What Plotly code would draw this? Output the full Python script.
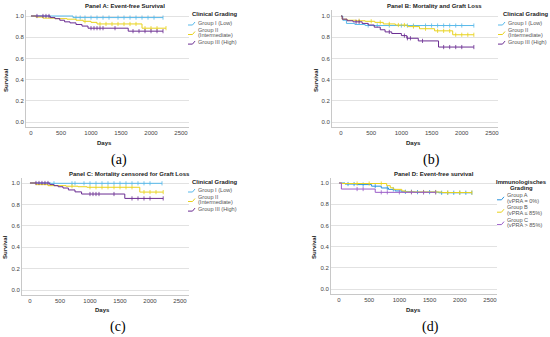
import plotly.graph_objects as go

W, H = 550, 337

# ---------------- data ----------------
# Panel A: Event-free Survival
A_I_t = [0, 700, 2200]
A_I_s = [1.0, 0.985, 0.985]
A_I_c = [750, 820, 900, 1000, 1100, 1200, 1300, 1450, 1550, 1650, 1750, 1850, 1950, 2050, 2200]
A_II_t = [0, 80, 200, 400, 600, 750, 870, 1000, 1100, 1850, 2250]
A_II_s = [1.0, 0.99, 0.98, 0.975, 0.97, 0.96, 0.95, 0.94, 0.925, 0.885, 0.885]
A_II_c = [900, 1150, 1250, 1350, 1450, 1550, 1650, 1750, 1900, 2000, 2100, 2250]
A_III_t = [0, 320, 400, 480, 560, 650, 750, 850, 950, 1620, 2200]
A_III_s = [1.0, 0.985, 0.975, 0.96, 0.945, 0.935, 0.92, 0.905, 0.885, 0.857, 0.857]
A_III_c = [100, 200, 250, 300, 1000, 1050, 1100, 1150, 1200, 1400, 1700, 1800, 1900, 2000, 2100, 2200]

# Panel B: Mortality and Graft Loss
B_I_t = [0, 30, 90, 230, 400, 2200]
B_I_s = [1.0, 0.96, 0.93, 0.92, 0.91, 0.91]
B_I_c = [450, 600, 800, 1000, 1100, 1200, 1400, 1500, 1600, 1700, 1800, 1900, 2000, 2200]
B_II_t = [0, 20, 100, 250, 400, 560, 700, 900, 1100, 1300, 1550, 1850, 2200]
B_II_s = [1.0, 0.97, 0.96, 0.955, 0.95, 0.94, 0.925, 0.915, 0.9, 0.88, 0.86, 0.823, 0.823]
B_II_c = [300, 500, 650, 800, 950, 1050, 1200, 1400, 1600, 1700, 1800, 1900, 2000, 2100, 2200]
B_III_t = [0, 20, 100, 200, 350, 450, 550, 650, 730, 840, 1000, 1090, 1280, 1615, 2200]
B_III_s = [1.0, 0.97, 0.955, 0.945, 0.93, 0.915, 0.895, 0.87, 0.85, 0.835, 0.815, 0.79, 0.765, 0.707, 0.707]
B_III_c = [250, 300, 800, 1050, 1100, 1150, 1350, 1700, 1800, 1900, 2000, 2200]

# Panel C: Mortality censored for Graft Loss
C_I_t = [0, 350, 2200]
C_I_s = [1.0, 0.997, 0.997]
C_I_c = [400, 700, 750, 900, 1000, 1100, 1200, 1300, 1400, 1500, 1600, 1700, 1800, 1900, 2000, 2200]
C_II_t = [0, 100, 300, 600, 800, 950, 1830, 2220]
C_II_s = [1.0, 0.985, 0.975, 0.97, 0.965, 0.96, 0.915, 0.915]
C_II_c = [700, 1000, 1100, 1200, 1300, 1400, 1500, 1600, 1700, 1900, 2000, 2100, 2220]
C_III_t = [0, 330, 400, 470, 550, 640, 750, 860, 1580, 2220]
C_III_s = [1.0, 0.985, 0.975, 0.965, 0.953, 0.935, 0.917, 0.897, 0.856, 0.856]
C_III_c = [100, 150, 200, 250, 300, 1000, 1050, 1100, 1150, 1400, 1700, 1800, 1900, 2000, 2220]

# Panel D: Event-free survival (immunological grading)
D_A_t = [0, 100, 300, 540, 700, 820, 930, 1040, 1250, 1650, 2200]
D_A_s = [1.0, 0.99, 0.985, 0.97, 0.953, 0.94, 0.925, 0.917, 0.914, 0.908, 0.908]
D_A_c = [150, 250, 400, 600, 800, 900, 1100, 1200, 1300, 1400, 1500, 1600, 1700, 1800, 1900, 2000, 2100, 2200]
D_B_t = [0, 50, 790, 850, 900, 1040, 1100, 1700, 2200]
D_B_s = [1.0, 0.995, 0.975, 0.955, 0.94, 0.925, 0.915, 0.91, 0.91]
D_B_c = [300, 500, 700, 1200, 1400, 1600, 1800, 2000, 2200]
D_C_t = [0, 40, 600, 1600]
D_C_s = [1.0, 0.943, 0.912, 0.912]
D_C_c = [300, 400, 700, 800, 1000, 1200, 1400, 1600]

panel_titles = ["Panel A: Event-free Survival", "Panel B: Mortality and Graft Loss",
                "Panel C: Mortality censored for Graft Loss", "Panel D: Event-free survival"]
clin_title = ["Clinical Grading"]
clin_labels = [["Group I (Low)"], ["Group II", "(Intermediate)"], ["Group III (High)"]]
imm_title = ["Immunologisches", "Grading"]
imm_labels = [["Group A", "(vPRA = 0%)"], ["Group B", "(vPRA \u2264 85%)"], ["Group C", "(vPRA > 85%)"]]
x_ticks = [0, 500, 1000, 1500, 2000, 2500]
y_ticks = [0.0, 0.2, 0.4, 0.6, 0.8, 1.0]
sub_labels = ["(a)", "(b)", "(c)", "(d)"]

BLUE, YEL, PUR = "#58b9ea", "#e8d21c", "#6b2d92"
D_COLS = ["#2a92dc", "#e8d21c", "#9a5cc8"]

panels = [
    dict(groups=[(A_I_t, A_I_s, A_I_c), (A_II_t, A_II_s, A_II_c), (A_III_t, A_III_s, A_III_c)],
         cols=[BLUE, YEL, PUR], xd=(26, 189), yd=(10, 127), xr=(-83, 2633), y1=16, y0=122),
    dict(groups=[(B_I_t, B_I_s, B_I_c), (B_II_t, B_II_s, B_II_c), (B_III_t, B_III_s, B_III_c)],
         cols=[BLUE, YEL, PUR], xd=(332, 498), yd=(10, 127), xr=(-149, 2600), y1=16, y0=122),
    dict(groups=[(C_I_t, C_I_s, C_I_c), (C_II_t, C_II_s, C_II_c), (C_III_t, C_III_s, C_III_c)],
         cols=[BLUE, YEL, PUR], xd=(22, 189), yd=(178, 295), xr=(-133, 2650), y1=183, y0=290),
    dict(groups=[(D_A_t, D_A_s, D_A_c), (D_B_t, D_B_s, D_B_c), (D_C_t, D_C_s, D_C_c)],
         cols=D_COLS, xd=(331, 497), yd=(178, 294), xr=(-132, 2616), y1=183, y0=289),
]

FONT = "Liberation Sans, Arial, sans-serif"


def px(x):
    return x / W


def py(y):
    return 1 - y / H


def step_val(ts, ss, t):
    v = ss[0]
    for ti, si in zip(ts, ss):
        if ti <= t:
            v = si
    return v


fig = go.Figure()
layout = dict(width=W, height=H, autosize=False, margin=dict(l=0, r=0, t=0, b=0, pad=0),
              paper_bgcolor="white", plot_bgcolor="white", showlegend=False,
              font=dict(family=FONT, size=6, color="#333"))
annotations = []
shapes = []

for i, p in enumerate(panels):
    k = "" if i == 0 else str(i + 1)
    xa, ya = "x" + k, "y" + k
    unit = p["y0"] - p["y1"]
    ylo = (p["y0"] - p["yd"][1]) / unit
    yhi = (p["y0"] - p["yd"][0]) / unit
    layout["xaxis" + k] = dict(domain=[px(p["xd"][0]), px(p["xd"][1])], range=list(p["xr"]),
                               anchor=ya, tickvals=x_ticks, showgrid=False, zeroline=False,
                               showline=True, linecolor="#c8c8c8", linewidth=1, ticks="",
                               tickfont=dict(size=6, color="#444", family=FONT), fixedrange=True)
    layout["yaxis" + k] = dict(domain=[py(p["yd"][1]), py(p["yd"][0])], range=[ylo, yhi],
                               anchor=xa, tickvals=y_ticks, ticktext=[f"{v:.1f}" for v in y_ticks],
                               showgrid=True, gridcolor="#e2e2e2", gridwidth=1, zeroline=False,
                               showline=True, linecolor="#c8c8c8", linewidth=1, ticks="",
                               tickfont=dict(size=6, color="#444", family=FONT), fixedrange=True)
    for (ts, ss, cs), col in zip(p["groups"], p["cols"]):
        fig.add_trace(go.Scatter(x=ts, y=ss, mode="lines", line=dict(color=col, width=1, shape="hv"),
                                 xaxis=xa, yaxis=ya, hoverinfo="skip"))
        fig.add_trace(go.Scatter(x=cs, y=[step_val(ts, ss, c) for c in cs], mode="markers",
                                 marker=dict(symbol="line-ns-open", size=3, color=col,
                                             line=dict(color=col, width=0.8)),
                                 xaxis=xa, yaxis=ya, hoverinfo="skip"))


def ann(text, x, y, size, color="#222", xanchor="center", angle=0, family=FONT):
    annotations.append(dict(text=text, x=px(x), y=py(y), xref="paper", yref="paper",
                            showarrow=False, xanchor=xanchor, yanchor="middle", textangle=angle,
                            font=dict(size=size, color=color, family=family)))


# titles
title_pos = [(125, 6), (434, 6), (129, 174), (434, 174)]
for t, (x, y) in zip(panel_titles, title_pos):
    ann(f"<b>{t}</b>", x, y, 6)
# axis titles
for (x, y) in [(6, 80), (316, 80), (5, 247), (314, 247)]:
    ann("<b>Survival</b>", x, y, 6, angle=-90)
for (x, y) in [(104, 143), (413, 143), (102, 310), (413, 310)]:
    ann("<b>Days</b>", x, y, 6)
# sub labels
for t, (x, y) in zip(sub_labels, [(119, 160), (431, 160), (118, 327), (430, 327)]):
    ann(t, x, y, 14, color="#000", family="Liberation Serif, Times New Roman, serif")


# legends
def add_legend(title_lines, title_x, title_y, title_anchor, text_x, first_y, labels, cols):
    for j, line in enumerate(title_lines):
        ann(f"<b>{line}</b>", title_x, title_y + j * 6.3, 5.9, xanchor=title_anchor)
    y = first_y
    for lines, col in zip(labels, cols):
        y0 = y
        for line in lines:
            ann(line, text_x, y, 5.6, color="#555", xanchor="left")
            y += 5.7
        sy = y0 + 2 + (len(lines) - 1) * 2.8
        shapes.append(dict(type="path", xref="paper", yref="paper",
                           path=f"M {px(text_x-8)},{py(sy)} L {px(text_x-3.5)},{py(sy)} L {px(text_x-1)},{py(sy-3)}",
                           line=dict(color=col, width=1)))
        y += 1.0


add_legend(clin_title, 190, 14, "left", 196, 23, clin_labels, [BLUE, YEL, PUR])
add_legend(clin_title, 501, 14, "left", 506, 23, clin_labels, [BLUE, YEL, PUR])
add_legend(clin_title, 190, 182, "left", 196, 190, clin_labels, [BLUE, YEL, PUR])
add_legend(imm_title, 521, 182, "center", 505, 195, imm_labels, D_COLS)

layout["annotations"] = annotations
layout["shapes"] = shapes
fig.update_layout(**layout)
fig.write_html("out.html", config={"displayModeBar": False, "staticPlot": True},
               post_script="document.body.style.margin='0';document.body.style.padding='0';")
